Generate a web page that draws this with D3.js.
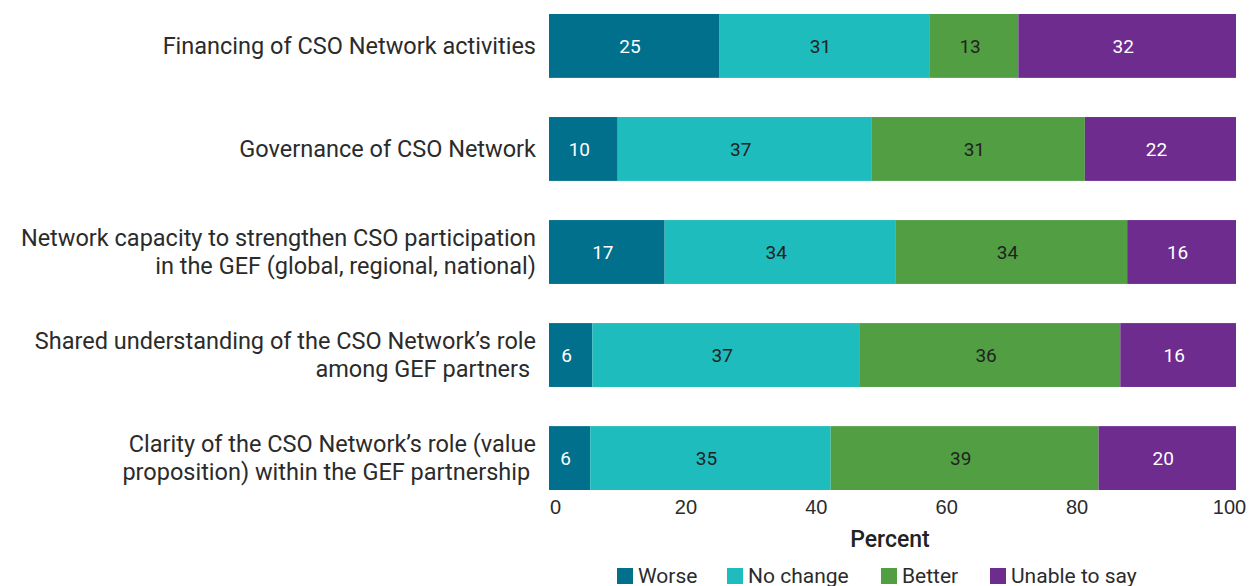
<!DOCTYPE html>
<html>
<head>
<meta charset="utf-8">
<script src="https://cdn.jsdelivr.net/npm/d3@7"></script>
<style>
  body { margin: 0; background: #fff; }
  svg { display: block; font-family: Roboto, "Noto Sans", sans-serif; }
  .cat { font-size: 23.5px; fill: #2b2b2b; }
  .tick text { font-size: 20px; fill: #2b2b2b; }
  .barlabel { font-size: 19px; }
</style>
</head>
<body>
<script>
// categories (top to bottom), each may wrap to two lines
var categories = [
    ["Financing of CSO Network activities"],
    ["Governance of CSO Network"],
    ["Network capacity to strengthen CSO participation", "in the GEF (global, regional, national)"],
    ["Shared understanding of the CSO Network\u2019s role", "among GEF partners\u00a0"],
    ["Clarity of the CSO Network\u2019s role (value", "proposition) within the GEF partnership\u00a0"]
];

// response series
var seriesNames = ["Worse", "No change", "Better", "Unable to say"];
var worse     = [25, 10, 17, 6, 6];
var noChange  = [31, 37, 34, 37, 35];
var better    = [13, 31, 34, 36, 39];
var unable    = [32, 22, 16, 16, 20];

var tickValues = [0, 20, 40, 60, 80, 100];

var colors = ["#00708d", "#1ebcbc", "#519e43", "#6e2c8f"];
var labelColors = ["#ffffff", "#222222", "#222222", "#ffffff"];

window.onload = drawChart();

function drawChart(){

    var width = 1249,
        height = 586;

    var svg = d3.select("body")
        .append("svg")
        .attr("width", width)
        .attr("height", height);

    //build rows for stacking
    var rows = categories.map(function(c, i){
        return {
            idx: i,
            "Worse": worse[i],
            "No change": noChange[i],
            "Better": better[i],
            "Unable to say": unable[i]
        };
    });

    //each bar fills the full width (shares of the row total)
    var stack = d3.stack()
        .keys(seriesNames)
        .offset(d3.stackOffsetExpand);
    var layers = stack(rows);

    var x = d3.scaleLinear()
        .domain([0, 1])
        .range([549, 1236]);

    var y = d3.scaleBand()
        .domain(d3.range(categories.length))
        .range([14, 490])
        .paddingInner(0.38)
        .paddingOuter(0);

    //bars
    var groups = svg.selectAll(".layer")
        .data(layers)
        .enter()
        .append("g")
        .attr("class", "layer")
        .attr("fill", function(d, i){ return colors[i]; });

    groups.selectAll("rect")
        .data(function(d){ return d; })
        .enter()
        .append("rect")
        .attr("x", function(d){ return x(d[0]); })
        .attr("y", function(d){ return y(d.data.idx); })
        .attr("width", function(d){ return x(d[1]) - x(d[0]); })
        .attr("height", y.bandwidth());

    //value labels
    layers.forEach(function(layer, li){
        svg.selectAll(".lbl" + li)
            .data(layer)
            .enter()
            .append("text")
            .attr("class", "barlabel")
            .attr("x", function(d){ return (x(d[0]) + x(d[1])) / 2; })
            .attr("y", function(d){ return y(d.data.idx) + y.bandwidth() / 2; })
            .attr("dx", -4)
            .attr("dy", "0.36em")
            .attr("text-anchor", "middle")
            .attr("fill", labelColors[li])
            .text(function(d){ return d.data[layer.key]; });
    });

    //category labels
    var cats = svg.selectAll(".cat")
        .data(categories)
        .enter()
        .append("text")
        .attr("class", "cat")
        .attr("text-anchor", "end")
        .attr("y", function(d, i){ return y(i) + y.bandwidth() / 2; });

    cats.selectAll("tspan")
        .data(function(d){ return d.map(function(t, j){ return {t: t, j: j, n: d.length}; }); })
        .enter()
        .append("tspan")
        .attr("x", 536)
        .attr("dy", function(d){
            if (d.j > 0) return "1.19em";
            return d.n == 1 ? "0.35em" : "-0.25em";
        })
        .text(function(d){ return d.t; });

    //x axis (labels only)
    var xTicks = d3.scaleLinear()
        .domain([0, 100])
        .range([555, 1207]);

    var axis = svg.append("g")
        .attr("transform", "translate(0,492)")
        .call(d3.axisBottom(xTicks)
            .tickValues(tickValues)
            .tickSize(0)
            .tickPadding(8));
    axis.select(".domain").remove();
    axis.selectAll(".tick text")
        .attr("font-family", null)
        .attr("font-size", null)
        .attr("dx", function(d){ return d == 100 ? "1.1em" : 0; });

    svg.append("text")
        .attr("x", 890)
        .attr("y", 547)
        .attr("text-anchor", "middle")
        .attr("font-size", "23px")
        .attr("font-weight", 500)
        .attr("fill", "#222")
        .text("Percent");

    //legend
    var legendX = [617, 727, 881, 990];
    var legend = svg.selectAll(".legend")
        .data(seriesNames)
        .enter()
        .append("g")
        .attr("class", "legend")
        .attr("transform", function(d, i){ return "translate(" + legendX[i] + ",568)"; });

    legend.append("rect")
        .attr("width", 16)
        .attr("height", 16)
        .attr("fill", function(d, i){ return colors[i]; });

    legend.append("text")
        .attr("x", 21)
        .attr("y", 15)
        .attr("font-size", "21px")
        .attr("fill", "#2b2b2b")
        .text(function(d){ return d; });
}
</script>
</body>
</html>
